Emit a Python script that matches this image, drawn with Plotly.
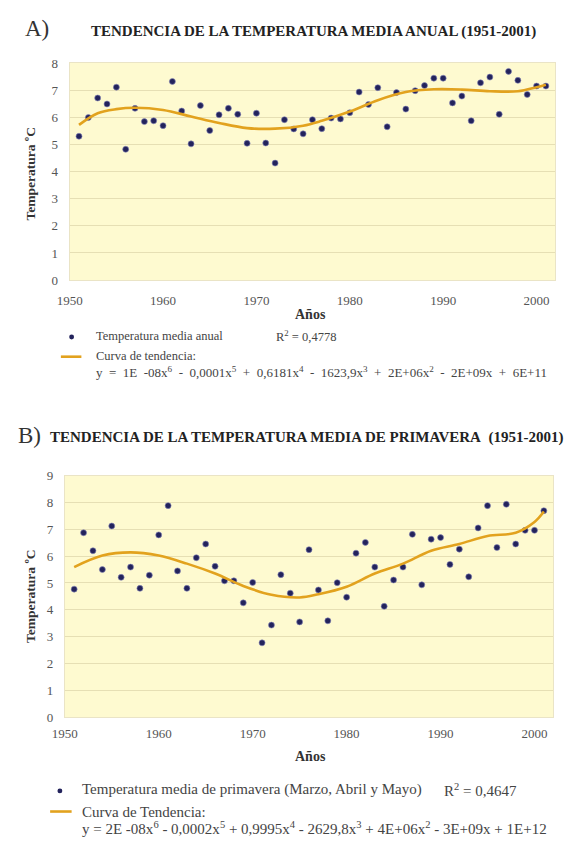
import plotly.graph_objects as go

W, H = 565, 848

# ---- Data: annual mean temperature (A) ----
years = list(range(1951, 2002))
temp_anual = [
    5.30, 5.99, 6.71, 6.49, 7.11, 4.82, 6.33, 5.84, 5.87, 5.69,
    7.32, 6.23, 5.02, 6.43, 5.51, 6.09, 6.33, 6.11, 5.04, 6.15,
    5.05, 4.31, 5.91, 5.57, 5.39, 5.91, 5.58, 5.97, 5.94, 6.17,
    6.93, 6.47, 7.09, 5.65, 6.91, 6.30, 6.98, 7.17, 7.44, 7.44,
    6.53, 6.78, 5.87, 7.27, 7.48, 6.11, 7.69, 7.36, 6.84, 7.15,
    7.15,
]
trend_years_a = [1951, 1953, 1955, 1957, 1960, 1963, 1966, 1969, 1972, 1975,
                 1977, 1980, 1983, 1986, 1989, 1992, 1995, 1998, 2000, 2001]
trend_anual = [5.72, 6.15, 6.30, 6.35, 6.27, 6.03, 5.79, 5.60, 5.58, 5.69,
               5.87, 6.21, 6.63, 6.93, 7.03, 7.02, 6.96, 6.96, 7.11, 7.20]

# ---- Data: spring mean temperature (B) ----
temp_primavera = [
    4.77, 6.87, 6.20, 5.50, 7.12, 5.21, 5.59, 4.80, 5.29, 6.79,
    7.88, 5.45, 4.80, 5.94, 6.45, 5.62, 5.08, 5.08, 4.26, 5.02,
    2.77, 3.43, 5.31, 4.62, 3.55, 6.24, 4.74, 3.59, 5.01, 4.47,
    6.11, 6.51, 5.59, 4.13, 5.11, 5.59, 6.81, 4.93, 6.63, 6.69,
    5.69, 6.26, 5.23, 7.05, 7.88, 6.32, 7.93, 6.45, 6.96, 6.96,
    7.69,
]
trend_years_b = [1951, 1954, 1957, 1960, 1963, 1966, 1969, 1972, 1975, 1977,
                 1980, 1983, 1986, 1989, 1992, 1995, 1998, 2000, 2001]
trend_primavera = [5.59, 6.02, 6.14, 6.02, 5.72, 5.35, 4.89, 4.56, 4.46, 4.58,
                   4.86, 5.35, 5.72, 6.20, 6.45, 6.75, 6.87, 7.27, 7.66]

x_ticks = [1950, 1960, 1970, 1980, 1990, 2000]

SERIF = "Liberation Serif"
BG = "#FEFAD0"
GRID = "#E6DFB4"
MARKER = "#23235c"
CURVE = "#E2A21E"


def px_x(p):
    return p / W


def px_y(p):
    return 1 - p / H


fig = go.Figure()

# Panel A
fig.add_trace(go.Scatter(x=years, y=temp_anual, mode="markers",
                         marker=dict(color=MARKER, size=6, line=dict(color="#8888bb", width=0.6)),
                         xaxis="x", yaxis="y", showlegend=False))
fig.add_trace(go.Scatter(x=trend_years_a, y=trend_anual, mode="lines",
                         line=dict(color=CURVE, width=2.6, shape="spline", smoothing=1.0),
                         xaxis="x", yaxis="y", showlegend=False))
# Panel B
fig.add_trace(go.Scatter(x=years, y=temp_primavera, mode="markers",
                         marker=dict(color=MARKER, size=6, line=dict(color="#8888bb", width=0.6)),
                         xaxis="x2", yaxis="y2", showlegend=False))
fig.add_trace(go.Scatter(x=trend_years_b, y=trend_primavera, mode="lines",
                         line=dict(color=CURVE, width=2.6, shape="spline", smoothing=1.0),
                         xaxis="x2", yaxis="y2", showlegend=False))

tickfont = dict(family=SERIF, size=13, color="#555555")
common_x = dict(range=[1950, 2002], tickvals=x_ticks, showgrid=False, zeroline=False,
                showline=True, linecolor="#EAE4C6", mirror=True, ticks="",
                tickfont=tickfont, fixedrange=True)
common_y = dict(showgrid=True, gridcolor=GRID, gridwidth=1, zeroline=False,
                showline=True, linecolor="#EAE4C6", mirror=True, ticks="",
                tickfont=tickfont, dtick=1, fixedrange=True, ticklabelstandoff=8)

fig.update_layout(
    width=W, height=H,
    margin=dict(l=0, r=0, t=0, b=0),
    paper_bgcolor="white",
    plot_bgcolor=BG,
    xaxis=dict(domain=[px_x(58), px_x(555)], anchor="y", ticklabelstandoff=8, **common_x),
    yaxis=dict(domain=[px_y(278), px_y(57)], anchor="x", range=[0, 8], **common_y),
    xaxis2=dict(domain=[px_x(53), px_x(553)], anchor="y2", ticklabelstandoff=4, **common_x),
    yaxis2=dict(domain=[px_y(723), px_y(477)], anchor="x2", range=[0, 9], **common_y),
)

ann = []
shapes = []


def text(x, y, s, size=10, bold=False, color="#333333", anchor="left", angle=0):
    if bold:
        s = "<b>" + s + "</b>"
    ann.append(dict(x=px_x(x), y=px_y(y), xref="paper", yref="paper", text=s,
                    showarrow=False, xanchor=anchor, yanchor="middle", textangle=angle,
                    borderpad=0, font=dict(family=SERIF, size=size, color=color)))


# Headings
text(11, 22, "A)", size=23, color="#333333")
text(79, 25, "TENDENCIA DE LA TEMPERATURA MEDIA ANUAL (1951-2001)", size=15, bold=True, color="#222222")
text(4, 436, "B)", size=23, color="#333333")
text(37, 438, "TENDENCIA DE LA TEMPERATURA MEDIA DE PRIMAVERA&nbsp;&nbsp;(1951-2001)",
     size=15, bold=True, color="#222222")

# Axis titles
text(18, 170, "Temperatura ºC", size=13.5, bold=True, color="#333333", anchor="center", angle=-90)
text(305, 313, "Años", size=14, bold=True, color="#333333", anchor="center")
text(18, 600, "Temperatura ºC", size=13.5, bold=True, color="#333333", anchor="center", angle=-90)
text(305, 763, "Años", size=14, bold=True, color="#333333", anchor="center")

SP = "&nbsp;"
# Legend A
text(84, 335, "Temperatura media anual", size=12.5, color="#444444")
text(268, 335, "R<sup>2</sup> = 0,4778", size=12.5, color="#444444")
text(84, 355, "Curva de tendencia:", size=12.5, color="#444444")
eq_a = ("y = 1E -08x<sup>6</sup> - 0,0001x<sup>5</sup> + 0,6181x<sup>4</sup> - 1623,9x<sup>3</sup>"
        " + 2E+06x<sup>2</sup> - 2E+09x + 6E+11").replace(" ", SP * 2)
text(84, 372, eq_a, size=13, color="#444444")

# Legend B
text(70, 797, "Temperatura media de primavera (Marzo, Abril y Mayo)", size=15, color="#444444")
text(440, 797, "R<sup>2</sup> = 0,4647", size=15, color="#444444")
text(70, 819, "Curva de Tendencia:", size=15, color="#444444")
eq_b = ("y = 2E -08x<sup>6</sup> - 0,0002x<sup>5</sup> + 0,9995x<sup>4</sup> - 2629,8x<sup>3</sup>"
        " + 4E+06x<sup>2</sup> - 3E+09x + 1E+12")
text(70, 836, eq_b, size=15, color="#444444")

# Legend swatches
for (cx, cy) in [(60, 336), (48, 798)]:
    shapes.append(dict(type="circle", xref="paper", yref="paper",
                       x0=px_x(cx - 2.5), x1=px_x(cx + 2.5), y0=px_y(cy + 2.5), y1=px_y(cy - 2.5),
                       fillcolor=MARKER, line=dict(color=MARKER, width=0)))
for (x0, x1, cy) in [(49, 70, 356), (38, 60, 819)]:
    shapes.append(dict(type="line", xref="paper", yref="paper",
                       x0=px_x(x0), x1=px_x(x1), y0=px_y(cy), y1=px_y(cy),
                       line=dict(color=CURVE, width=2.6)))

fig.update_layout(annotations=ann, shapes=shapes)

fig.write_html("out.html")
